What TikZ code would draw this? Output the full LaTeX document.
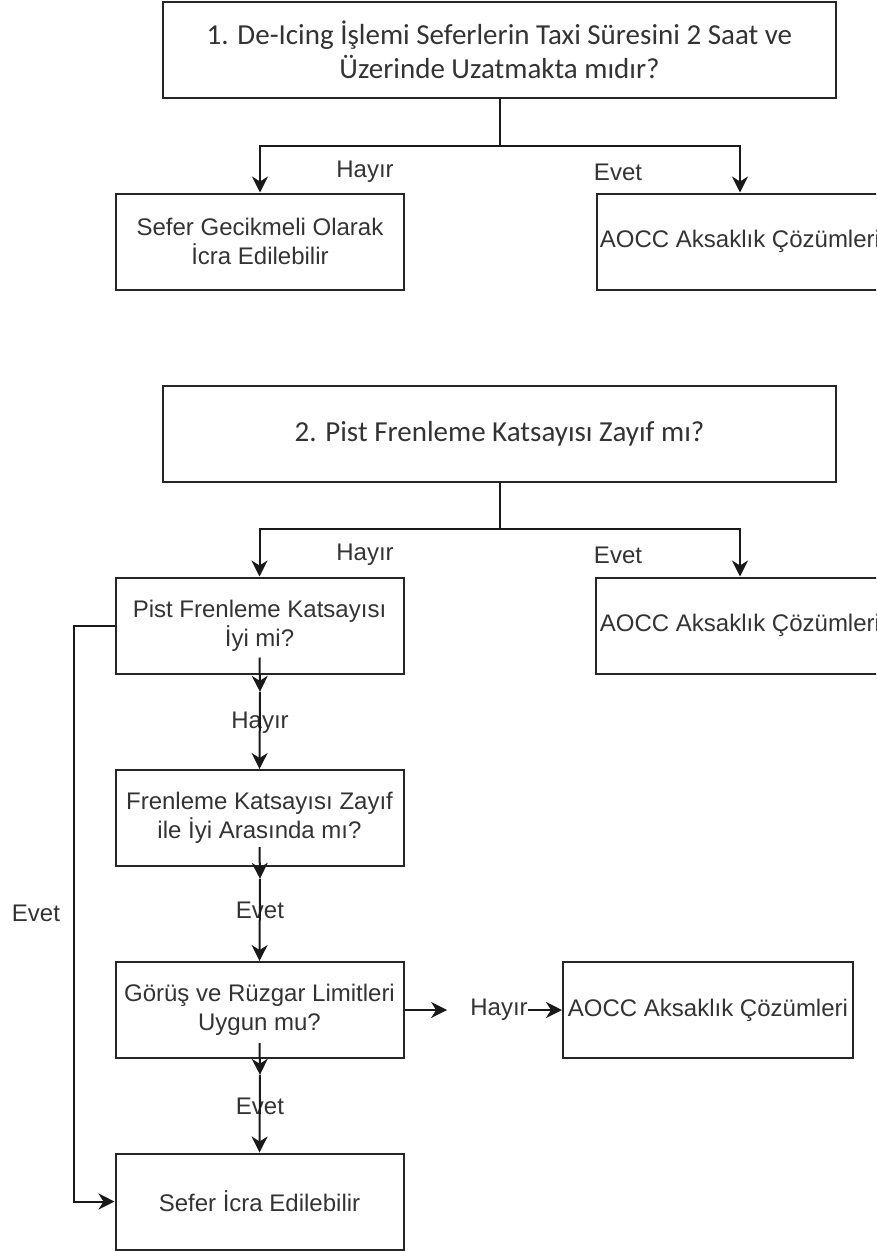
\documentclass[tikz,border=0pt]{standalone}
\usepackage{fontspec}
\setmainfont{Liberation Sans}
\newfontfamily\califont{Carlito}
\usetikzlibrary{arrows.meta,calc}

\begin{document}
\begin{tikzpicture}[x=1pt,y=-1pt,
  font=\fontsize{24}{29}\selectfont,text=black!80,
  box/.style={draw=black!85,line width=2pt,minimum width=288pt,minimum height=96pt,
              align=center,inner sep=0pt},
  wide/.style={box,minimum width=673pt,font=\califont\fontsize{29}{34}\selectfont},
  lbl/.style={inner sep=0pt},
  wire/.style={draw=black!90,line width=2pt},
  arr/.style={wire,-{Stealth[length=16pt,width=16pt,inset=5pt]}}]
\useasboundingbox (0,0) rectangle (876,1251);
\clip (0,0) rectangle (876,1251);

% question 1
\node[wide] (q1) at (499.5,50) {1. De-Icing İşlemi Seferlerin Taxi Süresini 2 Saat ve\\Üzerinde Uzatmakta mıdır?};
\node[box] (gec) at (260,241.5) {Sefer Gecikmeli Olarak\\İcra Edilebilir};
\node[box,minimum width=286pt] (aocc1) at (740,241.5) {AOCC Aksaklık Çözümleri};
\node[lbl] (h1) at (365,172) {Hayır};
\node[lbl] (e1) at (618,172) {Evet};

% question 2
\node[wide] (q2) at (499.5,434) {2. Pist Frenleme Katsayısı Zayıf mı?};
\node[box] (pist) at (259.5,625.5) {Pist Frenleme Katsayısı\\İyi mi?};
\node[box] (aocc2) at (740,625.5) {AOCC Aksaklık Çözümleri};
\node[lbl] (h2) at (365,555) {Hayır};
\node[lbl] (e2) at (618,555) {Evet};

\node[box] (fren) at (259.5,818) {Frenleme Katsayısı Zayıf\\ile İyi Arasında mı?};
\node[box] (gorus) at (259.5,1010) {Görüş ve Rüzgar Limitleri\\Uygun mu?};
\node[box] (icra) at (259.5,1201.5) {Sefer İcra Edilebilir};
\node[box,minimum width=290pt] (aocc3) at (708,1010) {AOCC Aksaklık Çözümleri};

\node[lbl,minimum height=62pt] (h3) at (260,723) {Hayır};
\node[lbl,minimum height=62pt] (e3) at (260,910) {Evet};
\node[lbl,minimum height=62pt] (e4) at (260,1106) {Evet};
\node[lbl] (h4) at (499,1010) {Hayır};
\node[lbl] (e5) at (36,913) {Evet};

% connectors
\coordinate (j1) at (499.5,146);
\coordinate (j2) at (499.5,529);
\draw[wire] (q1.south) -- (j1);
\draw[arr] (j1) -| (gec.north);
\draw[arr] (j1) -| (aocc1.north);
\draw[wire] (q2.south) -- (j2);
\draw[arr] (j2) -| (pist.north);
\draw[arr] (j2) -| (aocc2.north);

\draw[arr] ([yshift=17pt]pist.south) -- (h3.north);
\draw[arr] (h3.north) -- (fren.north);
\draw[arr] ([yshift=20pt]fren.south) -- (e3.north);
\draw[arr] (e3.north) -- (gorus.north);
\draw[arr] ([yshift=16pt]gorus.south) -- (e4.north);
\draw[arr] (e4.north) -- (icra.north);
\draw[arr] (gorus.east) -- ([xshift=-23pt]h4.west);
\draw[arr] (h4.east) -- (aocc3.west);
\draw[arr] (pist.west) -- ++(-41,0) |- (icra.west);
\end{tikzpicture}
\end{document}
